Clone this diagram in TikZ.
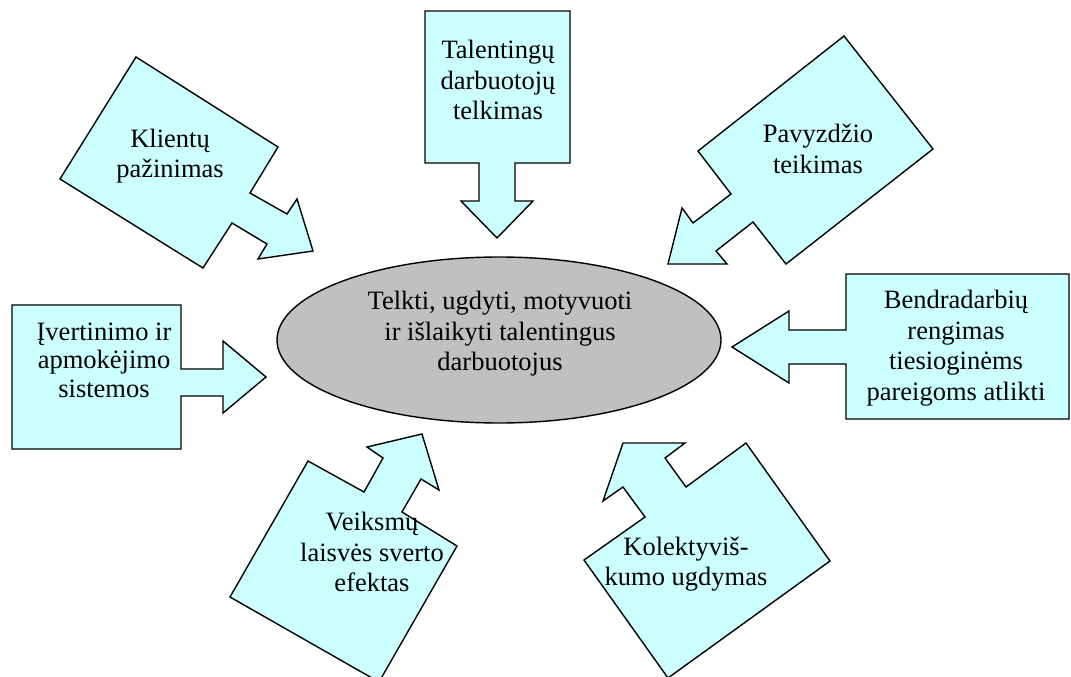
\documentclass[tikz,border=0pt]{standalone}
\usepackage{fontspec}
\setmainfont{Liberation Serif}
\usetikzlibrary{shapes.geometric}
\definecolor{callfill}{HTML}{CCFFFF}
\definecolor{goalfill}{HTML}{C0C0C0}
\tikzset{
  callout/.style={draw=black, fill=callfill, line width=1.4pt, line join=miter},
  lbl/.style={align=center, inner sep=0pt, text=black, font=\fontsize{26.5}{30.5}\selectfont},
  goal/.style={ellipse, draw=black, fill=goalfill, line width=1.4pt, minimum width=444pt, minimum height=166pt, inner sep=0pt}
}
\begin{document}
\begin{tikzpicture}[x=1pt,y=-1pt]
\useasboundingbox (0,0) rectangle (1071,677);
\clip (0,0) rectangle (1071,677);
\fill[white] (0,0) rectangle (1071,677);

% centre ellipse
\node[goal] (goal) at (499,340) {};
\node[lbl] (goaltxt) at (500,334) {Telkti, ugdyti, motyvuoti\\ir išlaikyti talentingus\\darbuotojus};

% Klientų pažinimas
\draw[callout] (136,57) -- (278,147) -- (250,193) -- (287,214) -- (297,199) -- (313,251) -- (258,259) -- (267,244) -- (232,223) -- (203,268) -- (60,179) -- cycle;
\node[lbl] (klientu) at (170,156) {Klientų\\pažinimas};

% Talentingų darbuotojų telkimas
\draw[callout] (425,11) -- (570,11) -- (570,163) -- (515,163) -- (515,201) -- (533,201) -- (497,238) -- (461,201) -- (479,201) -- (479,163) -- (425,163) -- cycle;
\node[lbl] (talent) at (498,80) {Talentingų\\darbuotojų\\telkimas};

% Pavyzdžio teikimas
\draw[callout] (844,36) -- (933,149) -- (786,264) -- (753,222) -- (716,251) -- (727,264) -- (668,264) -- (682,208) -- (693,223) -- (731,194) -- (698,151) -- cycle;
\node[lbl] (pavyzd) at (818,149) {Pavyzdžio\\teikimas};

% Įvertinimo ir apmokėjimo sistemos
\draw[callout] (12,305) -- (181,305) -- (181,369) -- (223,369) -- (223,341) -- (266,377) -- (223,413) -- (223,396) -- (181,396) -- (181,449) -- (12,449) -- cycle;
\node[lbl, font=\fontsize{26.5}{28.5}\selectfont] (ivert) at (104,360) {Įvertinimo ir\\apmokėjimo\\sistemos};

% Bendradarbių rengimas
\draw[callout] (846,274) -- (1069,274) -- (1069,419) -- (846,419) -- (846,364) -- (789,364) -- (789,383) -- (732,347) -- (789,311) -- (789,330) -- (846,330) -- cycle;
\node[lbl] (bendr) at (956,348) {Bendradarbių\\rengimas\\tiesioginėms\\pareigoms atlikti};

% Veiksmų laisvės sverto efektas
\draw[callout] (230,597) -- (308,461) -- (364,492) -- (383,458) -- (367,447) -- (422,434) -- (439,490) -- (421,479) -- (402,512) -- (457,546) -- (379,682) -- cycle;
\node[lbl] (veiksmu) at (372,552) {Veiksmų\\laisvės sverto\\efektas};

% Kolektyviškumo ugdymas
\draw[callout] (584,560) -- (645,517) -- (623,487) -- (603,501) -- (623,443) -- (685,443) -- (665,458) -- (686,487) -- (746,443) -- (830,561) -- (668,678) -- cycle;
\node[lbl] (kolekt) at (686,564) {Kolektyviš-\\kumo ugdymas};
\end{tikzpicture}
\end{document}
